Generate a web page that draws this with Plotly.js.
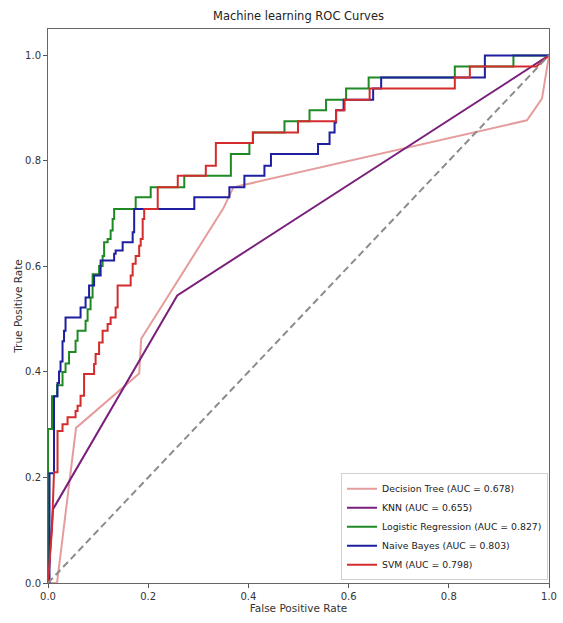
<!DOCTYPE html>
<html>
<head>
<meta charset="utf-8">
<script src="https://cdn.plot.ly/plotly-3.0.1.min.js"></script>
<style>
  html, body { margin: 0; padding: 0; background: #ffffff; }
  #chart { width: 563px; height: 623px; }
</style>
</head>
<body>
<div id="chart"></div>
<script>
// ROC operating points (false positive rate, true positive rate) per model
const dtFpr = [0, 0.018, 0.056, 0.182, 0.186, 0.35, 0.37, 0.956, 0.986, 1];
const dtTpr = [0, 0, 0.294, 0.397, 0.463, 0.71, 0.75, 0.877, 0.918, 1];

const knnFpr = [0, 0.01, 0.258, 1];
const knnTpr = [0, 0.14, 0.545, 1];

const lrFpr = [0, 0, 0.008, 0.008, 0.018, 0.018, 0.029, 0.029, 0.035, 0.035, 0.042, 0.042,
  0.055, 0.055, 0.059, 0.059, 0.075, 0.075, 0.079, 0.079, 0.085, 0.085, 0.089, 0.089,
  0.102, 0.102, 0.109, 0.109, 0.112, 0.112, 0.119, 0.119, 0.125, 0.125, 0.129, 0.129,
  0.132, 0.132, 0.175, 0.175, 0.205, 0.205, 0.272, 0.272, 0.365, 0.365, 0.402, 0.402,
  0.409, 0.409, 0.472, 0.472, 0.522, 0.522, 0.555, 0.555, 0.595, 0.595, 0.64, 0.64,
  0.812, 0.812, 0.929, 0.929, 1];
const lrTpr = [0, 0.292, 0.292, 0.354, 0.354, 0.375, 0.375, 0.4, 0.4, 0.416, 0.416, 0.438,
  0.438, 0.459, 0.459, 0.478, 0.478, 0.497, 0.497, 0.519, 0.519, 0.541, 0.541, 0.585,
  0.585, 0.601, 0.601, 0.62, 0.62, 0.646, 0.646, 0.652, 0.652, 0.668, 0.668, 0.69,
  0.69, 0.709, 0.709, 0.731, 0.731, 0.75, 0.75, 0.772, 0.772, 0.813, 0.813, 0.834,
  0.834, 0.854, 0.854, 0.875, 0.875, 0.896, 0.896, 0.916, 0.916, 0.937, 0.937, 0.958,
  0.958, 0.979, 0.979, 1, 1];

const nbFpr = [0, 0.003, 0.003, 0.012, 0.012, 0.019, 0.019, 0.022, 0.022, 0.025, 0.025,
  0.029, 0.029, 0.032, 0.032, 0.035, 0.035, 0.065, 0.065, 0.075, 0.075, 0.082, 0.082,
  0.092, 0.092, 0.105, 0.105, 0.132, 0.132, 0.135, 0.135, 0.149, 0.149, 0.169, 0.169,
  0.172, 0.172, 0.292, 0.292, 0.362, 0.362, 0.392, 0.392, 0.432, 0.432, 0.445, 0.445,
  0.539, 0.539, 0.562, 0.562, 0.572, 0.572, 0.575, 0.575, 0.59, 0.59, 0.649, 0.649,
  0.665, 0.665, 0.872, 0.872, 1];
const nbTpr = [0, 0, 0.208, 0.208, 0.354, 0.354, 0.379, 0.379, 0.401, 0.401, 0.42,
  0.42, 0.458, 0.458, 0.478, 0.478, 0.503, 0.503, 0.522, 0.522, 0.541, 0.541, 0.564,
  0.564, 0.583, 0.583, 0.611, 0.611, 0.624, 0.624, 0.63, 0.63, 0.646, 0.646, 0.665,
  0.665, 0.709, 0.709, 0.731, 0.731, 0.75, 0.75, 0.772, 0.772, 0.791, 0.791, 0.813,
  0.813, 0.832, 0.832, 0.854, 0.854, 0.873, 0.873, 0.896, 0.896, 0.916, 0.916, 0.937,
  0.937, 0.958, 0.958, 1, 1];

const svmFpr = [0, 0.008, 0.012, 0.019, 0.019, 0.029, 0.029, 0.039, 0.039, 0.055, 0.055,
  0.059, 0.059, 0.065, 0.065, 0.072, 0.072, 0.092, 0.092, 0.095, 0.095, 0.102, 0.102,
  0.109, 0.109, 0.119, 0.119, 0.125, 0.125, 0.135, 0.135, 0.139, 0.139, 0.165, 0.165,
  0.169, 0.169, 0.175, 0.175, 0.182, 0.182, 0.185, 0.185, 0.189, 0.189, 0.192, 0.192,
  0.219, 0.219, 0.259, 0.259, 0.315, 0.315, 0.335, 0.335, 0.409, 0.409, 0.499, 0.499,
  0.575, 0.575, 0.592, 0.592, 0.642, 0.642, 0.812, 0.812, 0.842, 0.842, 0.975, 1];
const svmTpr = [0, 0.104, 0.21, 0.21, 0.288, 0.288, 0.301, 0.301, 0.314, 0.314, 0.326,
  0.326, 0.336, 0.336, 0.355, 0.355, 0.396, 0.396, 0.415, 0.415, 0.434, 0.434, 0.456,
  0.456, 0.478, 0.478, 0.491, 0.491, 0.503, 0.503, 0.522, 0.522, 0.564, 0.564, 0.583,
  0.583, 0.605, 0.605, 0.62, 0.62, 0.639, 0.639, 0.652, 0.652, 0.69, 0.69, 0.709,
  0.709, 0.75, 0.75, 0.772, 0.772, 0.791, 0.791, 0.834, 0.834, 0.854, 0.854, 0.875,
  0.875, 0.896, 0.896, 0.916, 0.916, 0.937, 0.937, 0.958, 0.958, 0.979, 0.979, 1];

const modelNames = ['Decision Tree', 'KNN', 'Logistic Regression', 'Naive Bayes', 'SVM'];
const aucValues = [0.678, 0.655, 0.827, 0.803, 0.798];
const modelColors = ['#e59c9c', '#7a1f7c', '#1f8a24', '#1e1ea0', '#d42c2c'];

const chanceLine = [0, 1];
const tickVals = [0, 0.2, 0.4, 0.6, 0.8, 1.0];

const curves = [[dtFpr, dtTpr], [knnFpr, knnTpr], [lrFpr, lrTpr], [nbFpr, nbTpr], [svmFpr, svmTpr]];

const traces = curves.map(function (c, i) {
  return {
    x: c[0], y: c[1],
    type: 'scatter', mode: 'lines',
    name: modelNames[i] + ' (AUC = ' + aucValues[i].toFixed(3) + ')',
    line: { color: modelColors[i], width: 2 }
  };
});

// random-classifier reference diagonal
traces.push({
  x: chanceLine, y: chanceLine,
  type: 'scatter', mode: 'lines', showlegend: false, hoverinfo: 'skip',
  line: { color: '#8c8c8c', width: 2, dash: '7px,4px' }
});

const fontFamily = 'DejaVu Sans, sans-serif';

const layout = {
  width: 563, height: 623,
  margin: { l: 48, r: 14, t: 29, b: 40 },
  paper_bgcolor: '#ffffff', plot_bgcolor: '#ffffff',
  font: { family: fontFamily, size: 10, color: '#333333' },
  title: {
    text: 'Machine learning ROC Curves',
    font: { family: fontFamily, size: 11.5, color: '#222222' },
    x: 0.5, xref: 'paper', y: 0.974, yref: 'container', yanchor: 'middle'
  },
  xaxis: {
    range: [0, 1], tickvals: tickVals, tickformat: '.1f',
    ticks: 'outside', ticklen: 4, tickcolor: '#555555',
    showline: true, linecolor: '#666666', linewidth: 1, mirror: true,
    showgrid: false, zeroline: false,
    tickfont: { size: 10, color: '#333333' },
    title: { text: 'False Positive Rate', font: { size: 10.5, color: '#333333' }, standoff: 3 }
  },
  yaxis: {
    range: [0, 1.05], tickvals: tickVals, tickformat: '.1f',
    ticks: 'outside', ticklen: 4, tickcolor: '#555555',
    showline: true, linecolor: '#666666', linewidth: 1, mirror: true,
    showgrid: false, zeroline: false,
    tickfont: { size: 10, color: '#333333' },
    title: { text: 'True Positive Rate', font: { size: 10.5, color: '#333333' }, standoff: 0 }
  },
  legend: {
    x: 0.998, y: 0.005, xanchor: 'right', yanchor: 'bottom',
    bgcolor: '#ffffff', bordercolor: '#d0d0d0', borderwidth: 1,
    font: { family: fontFamily, size: 9.3, color: '#222222' },
    tracegroupgap: 0, itemwidth: 30
  },
  showlegend: true
};

Plotly.newPlot('chart', traces, layout, { staticPlot: true, displayModeBar: false });
</script>
</body>
</html>
